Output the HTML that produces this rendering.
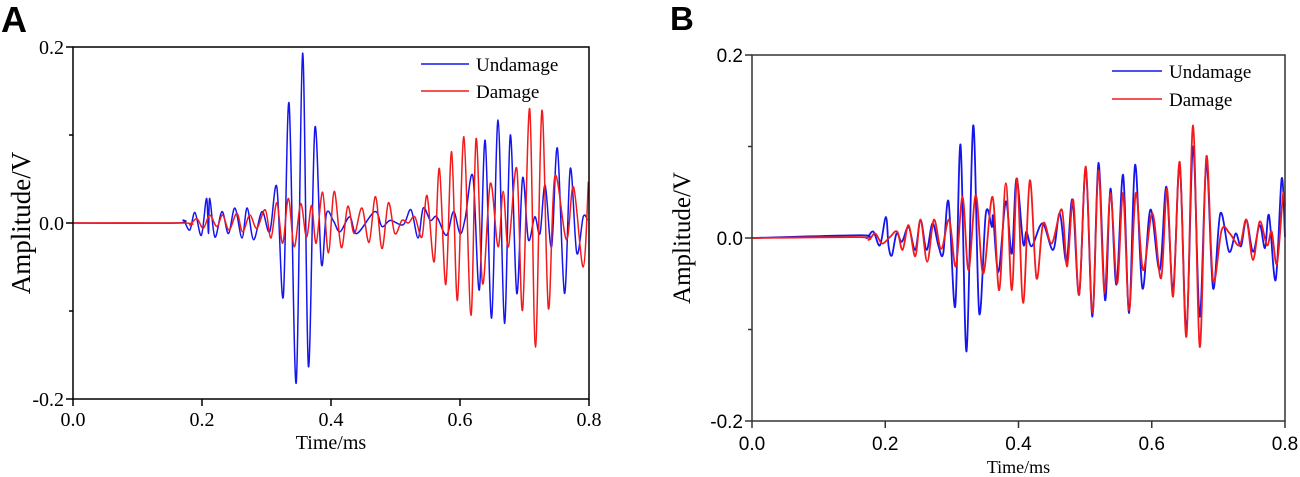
<!DOCTYPE html>
<html><head><meta charset="utf-8"><style>
html,body{margin:0;padding:0;background:#fff;}
svg{display:block;}
.serif{font-family:"Liberation Serif",serif;}
.sans{font-family:"Liberation Sans",sans-serif;}
</style></head><body>
<svg id="chart" width="1300" height="477" viewBox="0 0 1300 477" xmlns="http://www.w3.org/2000/svg">
<text x="1" y="32" class="sans" font-size="36" font-weight="bold">A</text>
<text x="670" y="30" class="sans" font-size="33" font-weight="bold">B</text>
<g id="panelA"></g>
<g id="panelB"></g>
</svg>
<script>
const xTicks = [0, 0.2, 0.4, 0.6, 0.8];
const xTickLabels = ["0.0", "0.2", "0.4", "0.6", "0.8"];
const yTicks = [-0.2, 0.0, 0.2];
const yTickLabels = ["-0.2", "0.0", "0.2"];
const yMinorTicks = [-0.1, 0.1];
const seriesNames = ["Undamage", "Damage"];

const aUndamageT = [0,0.16,0.171,0.181,0.189,0.199,0.207,0.210,0.212,0.220,0.231,0.241,0.251,0.262,0.270,0.280,0.293,0.305,0.316,0.326,0.335,0.346,0.356,0.365,0.375,0.385,0.393,0.404,0.414,0.429,0.440,0.468,0.479,0.492,0.512,0.524,0.535,0.543,0.554,0.564,0.579,0.590,0.600,0.608,0.620,0.630,0.639,0.649,0.659,0.669,0.678,0.688,0.697,0.706,0.716,0.724,0.732,0.742,0.751,0.762,0.771,0.781,0.791,0.798];
const aUndamageV = [0,0,0.003,-0.008,0.012,-0.014,0.028,-0.012,0.028,-0.016,0.013,-0.012,0.017,-0.017,0.017,-0.019,0.013,-0.010,0.041,-0.084,0.136,-0.182,0.193,-0.163,0.108,-0.046,0.011,0.002,-0.010,0.007,-0.012,0.013,-0.004,0.003,-0.002,0.015,-0.017,0.017,0.003,0.007,-0.014,0.013,-0.012,0.005,0.053,-0.076,0.094,-0.108,0.117,-0.114,0.100,-0.080,0.051,-0.019,0.007,-0.012,0.043,-0.027,0.085,-0.080,0.062,-0.034,0.007,0.003];
const aDamageT = [0,0.17,0.181,0.192,0.202,0.212,0.223,0.232,0.242,0.254,0.263,0.274,0.285,0.298,0.307,0.316,0.325,0.334,0.343,0.353,0.362,0.370,0.377,0.387,0.396,0.405,0.416,0.426,0.436,0.448,0.459,0.469,0.479,0.489,0.499,0.510,0.520,0.530,0.541,0.549,0.560,0.568,0.578,0.587,0.596,0.606,0.617,0.625,0.635,0.647,0.659,0.667,0.675,0.688,0.697,0.708,0.717,0.727,0.737,0.747,0.765,0.776,0.791,0.799];
const aDamageV = [0,0,-0.002,0.005,-0.006,0.009,-0.004,0.009,-0.008,0.011,-0.010,0.009,-0.006,0.015,-0.017,0.023,-0.023,0.028,-0.027,0.022,-0.016,0.020,-0.023,0.035,-0.034,0.036,-0.028,0.019,-0.012,0.017,-0.022,0.030,-0.029,0.023,-0.012,0.003,0.000,0.007,-0.016,0.031,-0.044,0.062,-0.070,0.081,-0.088,0.098,-0.105,0.096,-0.069,0.045,-0.027,0.036,-0.027,0.062,-0.099,0.130,-0.141,0.128,-0.097,0.053,-0.019,0.041,-0.050,0.047];

const bUndamageT = [0,0.162,0.172,0.182,0.192,0.201,0.205,0.210,0.217,0.225,0.235,0.245,0.253,0.262,0.271,0.280,0.287,0.295,0.305,0.313,0.322,0.332,0.341,0.351,0.360,0.362,0.370,0.381,0.390,0.397,0.407,0.412,0.420,0.436,0.452,0.462,0.472,0.481,0.491,0.501,0.511,0.520,0.530,0.538,0.547,0.557,0.566,0.575,0.586,0.598,0.612,0.622,0.632,0.642,0.652,0.662,0.672,0.682,0.692,0.703,0.716,0.726,0.734,0.742,0.752,0.762,0.770,0.776,0.786,0.795,0.800];
const bUndamageV = [0,0.003,0.000,0.007,-0.008,0.023,-0.009,-0.019,0.005,-0.004,0.012,-0.013,0.020,-0.013,0.016,-0.009,-0.017,0.040,-0.075,0.102,-0.124,0.123,-0.082,0.027,0.012,0.023,-0.037,0.040,-0.017,0.065,-0.006,0.007,-0.009,0.016,-0.013,0.027,-0.026,0.042,-0.062,0.076,-0.086,0.082,-0.068,0.054,-0.051,0.069,-0.082,0.080,-0.055,0.031,-0.035,0.056,-0.057,0.080,-0.101,0.100,-0.086,0.082,-0.055,0.027,-0.015,0.005,-0.009,0.020,-0.015,0.014,-0.011,0.025,-0.046,0.065,0.001];
const bDamageT = [0,0.162,0.175,0.185,0.195,0.207,0.218,0.226,0.235,0.245,0.253,0.263,0.273,0.284,0.296,0.306,0.316,0.325,0.336,0.347,0.361,0.371,0.381,0.390,0.398,0.407,0.417,0.427,0.437,0.450,0.465,0.473,0.482,0.491,0.501,0.511,0.520,0.529,0.538,0.548,0.557,0.566,0.576,0.587,0.601,0.614,0.623,0.632,0.642,0.652,0.662,0.672,0.682,0.692,0.705,0.717,0.732,0.742,0.752,0.762,0.773,0.780,0.788,0.797,0.800];
const bDamageV = [0,0.001,-0.002,0.005,-0.006,0.001,0.007,-0.013,0.014,-0.020,0.020,-0.026,0.020,-0.012,0.020,-0.031,0.045,-0.035,0.047,-0.039,0.045,-0.057,0.060,-0.057,0.065,-0.071,0.063,-0.044,0.016,-0.006,0.031,-0.031,0.042,-0.062,0.078,-0.082,0.074,-0.060,0.049,-0.050,0.049,-0.079,0.049,-0.035,0.027,-0.044,0.054,-0.064,0.083,-0.108,0.123,-0.119,0.089,-0.046,0.009,0.005,-0.008,0.020,-0.024,0.018,-0.008,0.007,-0.028,0.047,0.035];

const NS = "http://www.w3.org/2000/svg";
function mk(tag, attrs, parent){const e=document.createElementNS(NS,tag);for(const k in attrs)e.setAttribute(k,attrs[k]);parent.appendChild(e);return e;}

function smoothPath(pts){
  let d = "M" + pts[0][0].toFixed(2) + "," + pts[0][1].toFixed(2);
  for(let i=0;i<pts.length-1;i++){
    const p0=pts[Math.max(0,i-1)], p1=pts[i], p2=pts[i+1], p3=pts[Math.min(pts.length-1,i+2)];
    const c1x=p1[0]+(p2[0]-p0[0])/6, c1y=p1[1]+(p2[1]-p0[1])/6;
    const c2x=p2[0]-(p3[0]-p1[0])/6, c2y=p2[1]-(p3[1]-p1[1])/6;
    d += " C"+c1x.toFixed(2)+","+c1y.toFixed(2)+" "+c2x.toFixed(2)+","+c2y.toFixed(2)+" "+p2[0].toFixed(2)+","+p2[1].toFixed(2);
  }
  return d;
}

function drawPanel(g, cfg){
  const sx = t => cfg.x0 + (t/0.8)*(cfg.x1-cfg.x0);
  const sy = v => cfg.y0 - ((v+0.2)/0.4)*(cfg.y0-cfg.y1);
  const axisColor = cfg.axisColor;
  // series
  const series = [[cfg.uT,cfg.uV,"#1515ee"],[cfg.dT,cfg.dV,"#f21a1a"]];
  series.forEach((s,si)=>{
    const pts = s[0].map((t,i)=>[sx(t), sy(s[1][i])]);
    const p = mk("path",{d:smoothPath(pts),fill:"none",stroke:s[2],"stroke-width":cfg.lw,"stroke-linejoin":"round"},g);
    
    
  });
  // frame
  const fr = mk("rect",{x:cfg.x0,y:cfg.y1,width:cfg.x1-cfg.x0,height:cfg.y0-cfg.y1,fill:"none",stroke:axisColor,"stroke-width":1.5},g);
  
  
  // y ticks
  yTicks.forEach((v,i)=>{
    const tk = mk("line",{x1:cfg.x0-7,x2:cfg.x0,y1:sy(v),y2:sy(v),stroke:axisColor,"stroke-width":1.5},g);
    
    
    const lb = mk("text",{x:cfg.x0-9,y:sy(v)+7,"text-anchor":"end","font-size":cfg.tickFs,"font-family":cfg.tickFont},g);
    lb.textContent = yTickLabels[i];
    
    
  });
  yMinorTicks.forEach(v=>{
    const tk = mk("line",{x1:cfg.x0-4,x2:cfg.x0,y1:sy(v),y2:sy(v),stroke:axisColor,"stroke-width":1.5},g);
    
    
  });
  xTicks.forEach((t,i)=>{
    const tk = mk("line",{x1:sx(t),x2:sx(t),y1:cfg.y0,y2:cfg.y0+7,stroke:axisColor,"stroke-width":1.5},g);
    
    
    const lb = mk("text",{x:sx(t),y:cfg.xLabelY,"text-anchor":"middle","font-size":cfg.tickFs,"font-family":cfg.tickFont},g);
    lb.textContent = xTickLabels[i];
    
    
  });
  const xt = mk("text",{x:(cfg.x0+cfg.x1)/2,y:cfg.xTitleY,"text-anchor":"middle","font-size":cfg.xTitleFs,"font-family":"Liberation Serif, serif"},g);
  xt.textContent = "Time/ms";
  
  
  const yt = mk("text",{x:0,y:0,"text-anchor":"middle","font-size":cfg.yTitleFs,"font-family":"Liberation Serif, serif",transform:"translate("+cfg.yTitleX+","+((cfg.y0+cfg.y1)/2)+") rotate(-90)"},g);
  yt.textContent = "Amplitude/V";
  
  
  // legend
  const cols = ["#1515ee","#f21a1a"];
  seriesNames.forEach((n,i)=>{
    const y = cfg.legY + i*cfg.legGap;
    const ln = mk("line",{x1:cfg.legX,x2:cfg.legX+cfg.legLen,y1:y,y2:y,stroke:cols[i],"stroke-width":1.6},g);
    
    
    const tx = mk("text",{x:cfg.legX+cfg.legLen+7,y:y+7,"font-size":cfg.legFs,"font-family":"Liberation Serif, serif"},g);
    tx.textContent = n;
    
    
  });
}

drawPanel(document.getElementById("panelA"),{prefix:"panel-a",x0:73,x1:589,y1:47,y0:399,axisColor:"#000",lw:1.5,
  uT:aUndamageT,uV:aUndamageV,dT:aDamageT,dV:aDamageV,tickFs:20,tickFont:"Liberation Serif, serif",
  xLabelY:426,xTitleY:449,xTitleFs:20,yTitleX:30,yTitleFs:27,legX:421,legY:64,legGap:27,legLen:48,legFs:19});
drawPanel(document.getElementById("panelB"),{prefix:"panel-b",x0:752,x1:1285,y1:55,y0:421,axisColor:"#333",lw:1.8,
  uT:bUndamageT,uV:bUndamageV,dT:bDamageT,dV:bDamageV,tickFs:19,tickFont:"Liberation Sans, sans-serif",
  xLabelY:450,xTitleY:473,xTitleFs:18,yTitleX:690,yTitleFs:25,legX:1112,legY:71,legGap:28,legLen:50,legFs:19});
</script>
</body></html>
